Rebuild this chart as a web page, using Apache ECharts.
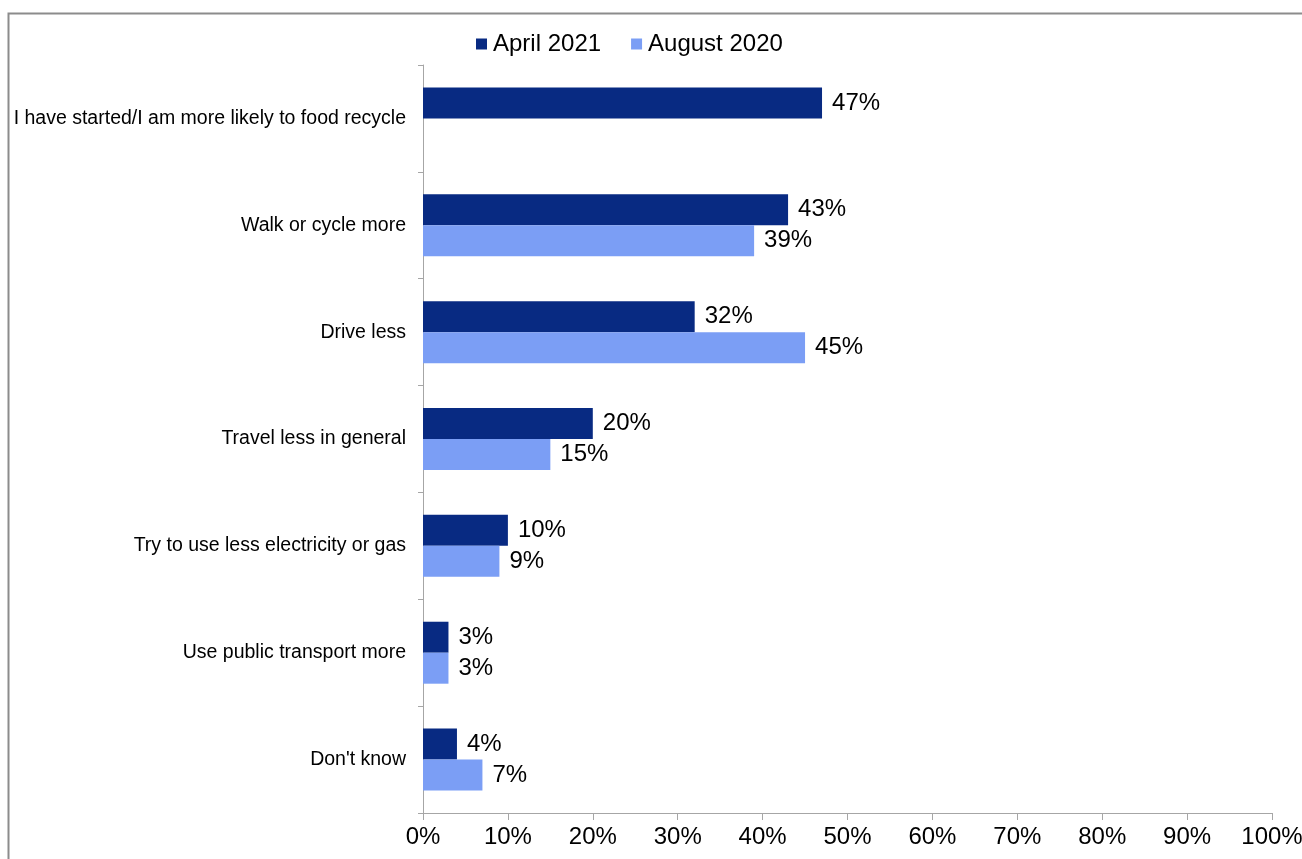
<!DOCTYPE html>
<html>
<head>
<meta charset="utf-8">
<script src="https://cdn.jsdelivr.net/npm/echarts@6/dist/echarts.min.js"></script>
<style>
  html, body { margin: 0; padding: 0; background: #fff; }
  #chart { width: 1302px; height: 859px; }
</style>
</head>
<body>
<div id="chart"></div>
<script>
// Behaviour changes reported in each survey wave
const categories = [
  'I have started/I am more likely to food recycle',
  'Walk or cycle more',
  'Drive less',
  'Travel less in general',
  'Try to use less electricity or gas',
  'Use public transport more',
  "Don't know"
];
const april2021 = [47, 43, 32, 20, 10, 3, 4];
const august2020 = [null, 39, 45, 15, 9, 3, 7];
const seriesNames = ['April 2021', 'August 2020'];
const xTicks = [0, 10, 20, 30, 40, 50, 60, 70, 80, 90, 100];

const FONT = '"Liberation Sans", Arial, sans-serif';
const chart = echarts.init(document.getElementById('chart'));

const valueLabel = {
  show: true,
  position: 'right',
  distance: 10,
  fontFamily: FONT,
  fontSize: 24,
  color: '#000',
  formatter: p => p.value + '%'
};

chart.setOption({
  animation: false,
  textStyle: { fontFamily: FONT },
  graphic: [{
    type: 'rect',
    shape: { x: 8.5, y: 13.5, width: 1400, height: 900 },
    style: { fill: 'none', stroke: '#8c8c8c', lineWidth: 2 },
    silent: true
  }],
  legend: {
    data: seriesNames,
    top: 27,
    left: 471,
    itemWidth: 11,
    itemHeight: 11,
    itemGap: 30,
    icon: 'rect',
    textStyle: { fontFamily: FONT, fontSize: 24, color: '#000', padding: [0, 0, 0, 1] }
  },
  grid: {
    left: 423, right: 30, top: 65, bottom: 46,
    containLabel: false,
    outerBoundsMode: 'none'
  },
  xAxis: {
    type: 'value',
    min: xTicks[0],
    max: xTicks[xTicks.length - 1],
    interval: 10,
    axisLine: { show: true, lineStyle: { color: '#a6a6a6', width: 1 } },
    axisTick: { show: true, length: 7, lineStyle: { color: '#a6a6a6' } },
    splitLine: { show: false },
    axisLabel: {
      fontFamily: FONT, fontSize: 24, color: '#000', margin: 12,
      formatter: v => v + '%'
    }
  },
  yAxis: {
    type: 'category',
    data: categories,
    inverse: true,
    axisLine: { show: true, lineStyle: { color: '#a6a6a6', width: 1 } },
    axisTick: { show: true, length: 5, lineStyle: { color: '#a6a6a6' } },
    axisLabel: { fontFamily: FONT, fontSize: 19.5, color: '#000', margin: 17 }
  },
  series: [
    {
      name: seriesNames[0],
      type: 'bar',
      data: april2021,
      barGap: '0%',
      barCategoryGap: '42%',
      itemStyle: { color: '#082a82' },
      label: valueLabel
    },
    {
      name: seriesNames[1],
      type: 'bar',
      data: august2020,
      itemStyle: { color: '#7b9ef5' },
      label: valueLabel
    }
  ]
});
</script>
</body>
</html>
